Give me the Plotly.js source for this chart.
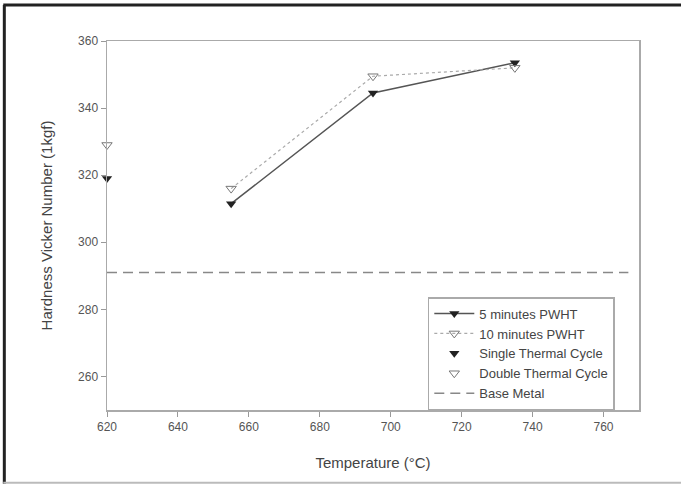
<!DOCTYPE html>
<html><head><meta charset="utf-8">
<script src="https://cdn.plot.ly/plotly-3.0.1.min.js"></script>
<style>html,body{margin:0;padding:0;background:#fff}#chart{width:681px;height:485px}</style>
</head><body><div id="chart"></div>
<script>
const pwhtTemps = [655, 695, 735];
const pwht5 = [311.5, 344.5, 353.5];
const pwht10 = [316, 349.5, 352];
const cycleTemp = [620];
const singleCycle = [319];
const doubleCycle = [329];
const baseX = [620, 767];
const baseY = [291, 291];
const xTicks = [620, 640, 660, 680, 700, 720, 740, 760];
const yTicks = [260, 280, 300, 320, 340, 360];

const traces = [
  {x: pwhtTemps, y: pwht5, name: '5 minutes PWHT', mode: 'lines+markers',
   line: {color: '#555', width: 1.5}, marker: {symbol: 'triangle-down', size: 9, color: '#222'}},
  {x: pwhtTemps, y: pwht10, name: '10 minutes PWHT', mode: 'lines+markers',
   line: {color: '#aaa', width: 1.2, dash: 'dot'}, marker: {symbol: 'triangle-down-open', size: 9, color: '#777'}},
  {x: cycleTemp, y: singleCycle, name: 'Single Thermal Cycle', mode: 'markers',
   marker: {symbol: 'triangle-down', size: 9, color: '#222'}, cliponaxis: false},
  {x: cycleTemp, y: doubleCycle, name: 'Double Thermal Cycle', mode: 'markers',
   marker: {symbol: 'triangle-down-open', size: 9, color: '#777'}, cliponaxis: false},
  {x: baseX, y: baseY, name: 'Base Metal', mode: 'lines',
   line: {color: '#888', width: 1.5, dash: '10px,6px'}}
];

const layout = {
  width: 681, height: 485,
  margin: {l: 107, r: 42, t: 41, b: 75},
  paper_bgcolor: '#fff', plot_bgcolor: '#fff',
  font: {family: 'Liberation Sans, Arial, sans-serif', color: '#555', size: 12},
  showlegend: true,
  legend: {x: 0.603, xanchor: 'left', y: 0.306, yanchor: 'top',
    bordercolor: '#aaa', borderwidth: 1.5, bgcolor: '#fff',
    font: {size: 13, color: '#444'}, tracegroupgap: 0, itemwidth: 40},
  xaxis: {range: [620, 770], tickvals: xTicks, ticks: 'outside', ticklen: 5, tickcolor: '#999',
    showline: true, linecolor: '#aaa', linewidth: 1.5, mirror: true, showgrid: false, zeroline: false,
    tickfont: {size: 12, color: '#555'},
    title: {text: 'Temperature (°C)', font: {size: 15, color: '#444'}, standoff: 24}},
  yaxis: {range: [250, 360], tickvals: yTicks, ticks: 'outside', ticklen: 5, tickcolor: '#999',
    showline: true, linecolor: '#aaa', linewidth: 1.5, mirror: true, showgrid: false, zeroline: false,
    tickfont: {size: 12, color: '#555'},
    title: {text: 'Hardness Vicker Number (1kgf)', font: {size: 15, color: '#444'}, standoff: 22}},
  shapes: [
    {type: 'line', xref: 'paper', yref: 'paper', x0: -0.195, x1: 1.08, y0: 1.0975, y1: 1.0975, line: {color: '#222', width: 3}},
    {type: 'line', xref: 'paper', yref: 'paper', x0: -0.193, x1: -0.193, y0: -0.2, y1: 1.0975, line: {color: '#222', width: 3}},
    {type: 'line', xref: 'paper', yref: 'paper', x0: -0.195, x1: 1.08, y0: -0.197, y1: -0.197, line: {color: '#bbb', width: 2}}
  ]
};
Plotly.newPlot('chart', traces, layout, {displayModeBar: false, staticPlot: true});
</script></body></html>
